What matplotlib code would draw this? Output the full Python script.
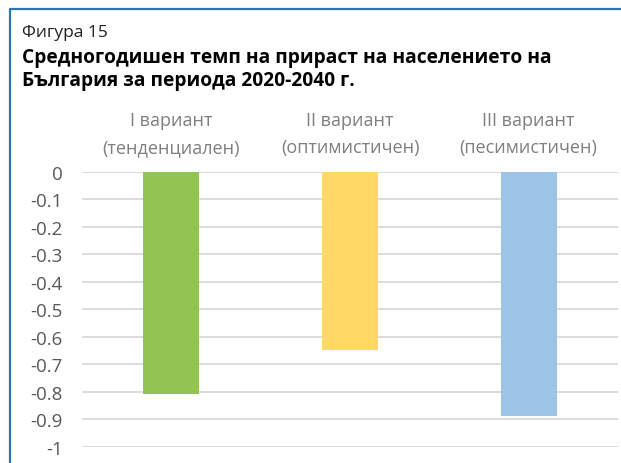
import matplotlib
matplotlib.use("Agg")
import matplotlib.pyplot as plt
from matplotlib.lines import Line2D

plt.rcParams["font.family"] = ["Open Sans", "DejaVu Sans"]

# Data
categories = ["I вариант\n(тенденциален)", "II вариант\n(оптимистичен)", "III вариант\n(песимистичен)"]
values = [-0.81, -0.65, -0.89]
colors = ["#92C353", "#FFD966", "#9DC3E6"]
y_ticks = [0, -0.1, -0.2, -0.3, -0.4, -0.5, -0.6, -0.7, -0.8, -0.9, -1]
y_tick_labels = ["0", "-0.1", "-0.2", "-0.3", "-0.4", "-0.5", "-0.6", "-0.7", "-0.8", "-0.9", "-1"]

W, H = 621, 464


def main():
    fig = plt.figure(figsize=(W / 100, H / 100), dpi=100)
    ax = fig.add_axes([82 / W, 16.3 / H, 536 / W, 275 / H])

    # Bars
    x = range(len(categories))
    ax.bar(x, values, width=0.315, color=colors, zorder=3)

    ax.set_xlim(-0.5, len(categories) - 0.5)
    ax.set_ylim(-1, 0)

    # Gridlines
    ax.set_yticks(y_ticks)
    ax.set_yticklabels(y_tick_labels)
    ax.yaxis.grid(True, color="#D9D9D9", linewidth=1.3, zorder=0)
    ax.tick_params(axis="y", length=0, pad=14, labelsize=13.5, labelcolor="#595959")

    # Category labels on top
    ax.xaxis.tick_top()
    ax.set_xticks(list(x))
    ax.set_xticklabels(categories, linespacing=1.7)
    ax.tick_params(axis="x", length=0, pad=11, labelsize=13, labelcolor="#7F7F7F")

    for s in ax.spines.values():
        s.set_visible(False)

    # Titles
    fig.text(22 / W, 1 - 33 / H, "Фигура 15", fontsize=12.5, va="center", ha="left", color="#222222")
    fig.text(22 / W, 1 - 69.5 / H,
             "Средногодишен темп на прираст на населението на\nБългария за периода 2020-2040 г.",
             fontsize=13.8, fontweight="bold", va="center", ha="left", linespacing=1.18, color="black")

    # Frame border (top and left)
    border = Line2D([10 / W, 10 / W, 1.0], [0.0, 1 - 10 / H, 1 - 10 / H],
                    transform=fig.transFigure, color="#2E74B5", linewidth=1.6)
    fig.add_artist(border)

    fig.savefig("out.png", dpi=100)


if __name__ == "__main__":
    main()
